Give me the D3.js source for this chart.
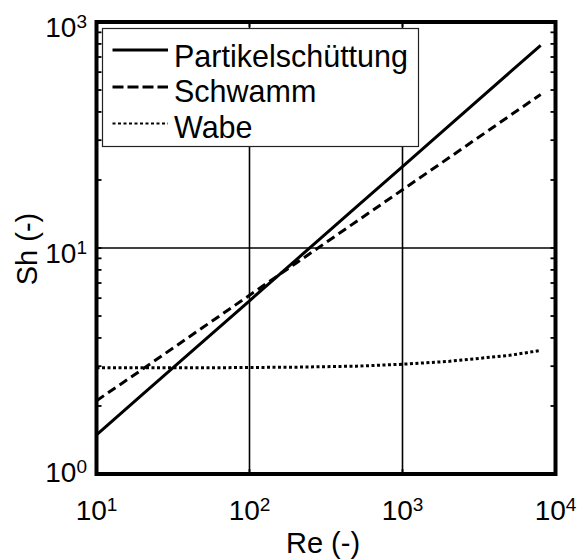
<!DOCTYPE html>
<html>
<head>
<meta charset="utf-8">
<script src="https://cdn.jsdelivr.net/npm/d3@7"></script>
<style>
  body { margin: 0; background: #fff; }
  svg { display: block; font-family: "Liberation Sans", Arial, Helvetica, sans-serif; }
</style>
</head>
<body>
<script>
// data
const reValues = [10, 20, 50, 100, 200, 500, 1000, 2000, 5000, 8000];
const shPartikel = [1.49, 2.25, 3.87, 5.84, 8.82, 15.2, 22.9, 34.6, 59.7, 78.9];
const shSchwamm = [2.11, 2.91, 4.47, 6.18, 8.54, 13.1, 18.1, 25.0, 38.4, 47.8];
const shWabe = [2.95, 2.95, 2.95, 2.96, 2.97, 3.0, 3.06, 3.15, 3.35, 3.52];

const seriesNames = ['Partikelschüttung', 'Schwamm', 'Wabe'];
const xTicks = [10, 100, 1000, 10000];
const xTickExp = [1, 2, 3, 4];
const yTicks = [1, 10, 100];
const yTickExp = [0, 1, 3];   // as printed on the original axis
const xGrid = [100, 1000];
const yGrid = [10];

const W = 582, H = 559;
const FONT_TICK = 28, FONT_SUP = 19, FONT_LABEL = 29, FONT_LEGEND = 30.5;

const svg = d3.select('body').append('svg')
  .attr('width', W)
  .attr('height', H);

const x = d3.scaleLog().domain([10, 10000]).range([96.5, 555.5]);
const y = d3.scaleLog().domain([1, 100]).range([474, 22]);

// grid
svg.append('g').selectAll('line')
  .data(xGrid).enter().append('line')
  .attr('x1', d => x(d)).attr('x2', d => x(d))
  .attr('y1', y.range()[0]).attr('y2', y.range()[1])
  .attr('stroke', '#000').attr('stroke-width', 1.6);

svg.append('g').selectAll('line')
  .data(yGrid).enter().append('line')
  .attr('x1', x.range()[0]).attr('x2', x.range()[1])
  .attr('y1', d => y(d)).attr('y2', d => y(d))
  .attr('stroke', '#000').attr('stroke-width', 1.6);

// curves
const styles = [
  { dash: null },
  { dash: '9,5' },
  { dash: '3,2.5' }
];
const seriesValues = [shPartikel, shSchwamm, shWabe];

const line = d3.line()
  .x(d => x(d[0]))
  .y(d => y(d[1]));

seriesValues.forEach(function(vals, i) {
  svg.append('path')
    .datum(reValues.map((r, j) => [r, vals[j]]))
    .attr('d', line)
    .attr('fill', 'none')
    .attr('stroke', '#000')
    .attr('stroke-width', 3)
    .attr('stroke-dasharray', styles[i].dash);
});

// legend
const legend = svg.append('g');
legend.append('rect')
  .attr('x', 102.5).attr('y', 28.5)
  .attr('width', 316).attr('height', 118)
  .attr('fill', '#fff')
  .attr('stroke', '#222').attr('stroke-width', 1.2);

const legendRowY = [50, 87, 123.5];
const legendTextY = [66.7, 102, 138.3];
seriesNames.forEach(function(name, i) {
  legend.append('line')
    .attr('x1', 112.5).attr('x2', 168)
    .attr('y1', legendRowY[i]).attr('y2', legendRowY[i])
    .attr('stroke', '#000')
    .attr('stroke-width', i === 2 ? 2.2 : 3)
    .attr('stroke-dasharray', i === 1 ? '11,4' : styles[i].dash);
  legend.append('text')
    .attr('x', 174).attr('y', legendTextY[i])
    .attr('font-size', FONT_LEGEND)
    .text(name);
});

// minor ticks on the y axis, both sides
const yMinor = [];
[1, 10].forEach(function(dec) {
  for (let k = 2; k <= 9; k++) yMinor.push(dec * k);
});
const TICK = 5;
const axisG = svg.append('g').attr('stroke', '#000').attr('stroke-width', 1.8);
yMinor.concat(yTicks).forEach(function(v) {
  axisG.append('line')
    .attr('x1', x.range()[0]).attr('x2', x.range()[0] + TICK)
    .attr('y1', y(v)).attr('y2', y(v));
  axisG.append('line')
    .attr('x1', x.range()[1]).attr('x2', x.range()[1] - TICK)
    .attr('y1', y(v)).attr('y2', y(v));
});
xTicks.forEach(function(v) {
  axisG.append('line')
    .attr('x1', x(v)).attr('x2', x(v))
    .attr('y1', y.range()[0]).attr('y2', y.range()[0] - TICK);
  axisG.append('line')
    .attr('x1', x(v)).attr('x2', x(v))
    .attr('y1', y.range()[1]).attr('y2', y.range()[1] + TICK);
});

// box
svg.append('rect')
  .attr('x', x.range()[0]).attr('y', y.range()[1])
  .attr('width', x.range()[1] - x.range()[0])
  .attr('height', y.range()[0] - y.range()[1])
  .attr('fill', 'none')
  .attr('stroke', '#000').attr('stroke-width', 4);

// tick labels
function powerLabel(sel, exp) {
  sel.append('tspan').attr('font-size', FONT_TICK).text('10');
  sel.append('tspan').attr('font-size', FONT_SUP).attr('dy', -9).text(exp);
}

xTicks.forEach(function(v, i) {
  const t = svg.append('text')
    .attr('x', x(v)).attr('y', 520)
    .attr('text-anchor', 'middle');
  powerLabel(t, xTickExp[i]);
});

yTicks.forEach(function(v, i) {
  const t = svg.append('text')
    .attr('x', 87).attr('y', Math.min(y(v) + 14.5, 482))
    .attr('text-anchor', 'end');
  powerLabel(t, yTickExp[i]);
});

// axis labels
svg.append('text')
  .attr('x', 323).attr('y', 553)
  .attr('text-anchor', 'middle')
  .attr('font-size', FONT_LABEL)
  .text('Re (-)');

svg.append('text')
  .attr('transform', 'translate(37,249) rotate(-90)')
  .attr('text-anchor', 'middle')
  .attr('font-size', FONT_LABEL)
  .text('Sh (-)');
</script>
</body>
</html>
